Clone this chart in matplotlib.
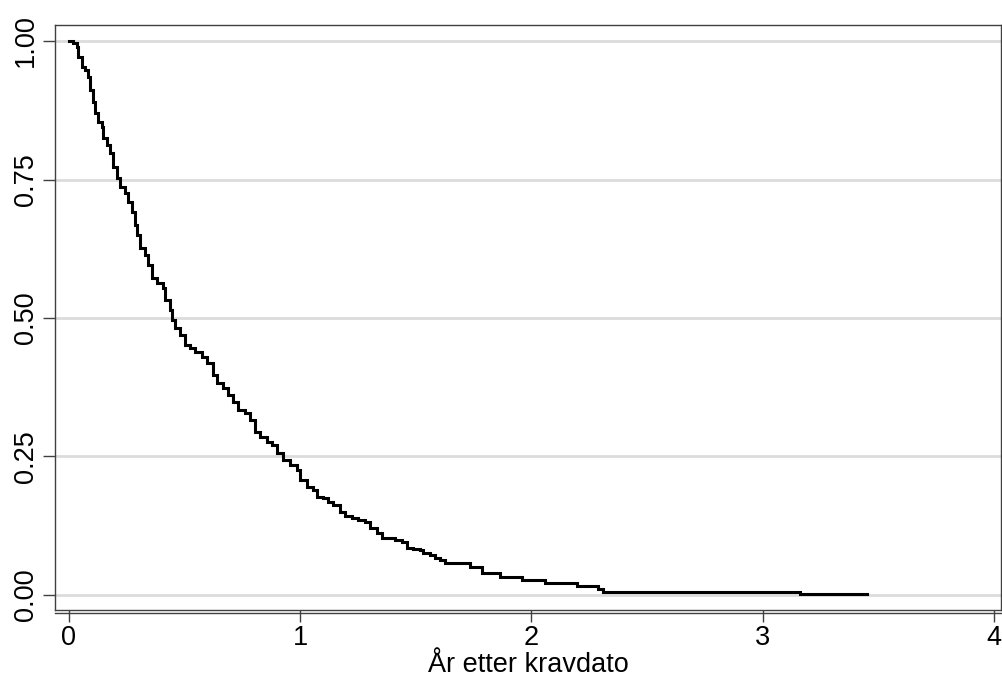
import numpy as np
import matplotlib
matplotlib.use('Agg')
import matplotlib.pyplot as plt

# step times (years) and survival after each step
times = [0.000, 0.017, 0.035, 0.039, 0.056, 0.069, 0.082, 0.091, 0.104, 0.112,
         0.125, 0.143, 0.147, 0.164, 0.177, 0.190, 0.208, 0.221, 0.242, 0.255,
         0.272, 0.285, 0.294, 0.307, 0.329, 0.342, 0.359, 0.381, 0.406, 0.415,
         0.437, 0.445, 0.458, 0.480, 0.502, 0.523, 0.545, 0.575, 0.597, 0.623,
         0.640, 0.666, 0.688, 0.709, 0.731, 0.761, 0.783, 0.804, 0.826, 0.856,
         0.878, 0.899, 0.925, 0.956, 0.986, 0.999, 1.029, 1.055, 1.072, 1.098,
         1.120, 1.142, 1.172, 1.194, 1.224, 1.250, 1.280, 1.302, 1.332, 1.354,
         1.410, 1.440, 1.462, 1.488, 1.518, 1.531, 1.561, 1.583, 1.604, 1.626,
         1.734, 1.786, 1.864, 1.959, 2.058, 2.197, 2.288, 2.309, 3.160, 3.451]
surv = [1.000, 0.996, 0.989, 0.971, 0.953, 0.948, 0.935, 0.912, 0.890, 0.870,
        0.854, 0.845, 0.825, 0.812, 0.798, 0.773, 0.753, 0.736, 0.726, 0.710,
        0.691, 0.668, 0.650, 0.626, 0.614, 0.596, 0.572, 0.563, 0.554, 0.532,
        0.514, 0.496, 0.482, 0.469, 0.451, 0.446, 0.439, 0.430, 0.419, 0.397,
        0.383, 0.374, 0.361, 0.348, 0.334, 0.329, 0.316, 0.294, 0.285, 0.276,
        0.271, 0.256, 0.244, 0.235, 0.226, 0.208, 0.195, 0.190, 0.177, 0.175,
        0.168, 0.162, 0.150, 0.143, 0.139, 0.135, 0.132, 0.121, 0.112, 0.103,
        0.099, 0.096, 0.085, 0.083, 0.081, 0.076, 0.072, 0.067, 0.063, 0.058,
        0.051, 0.040, 0.032, 0.027, 0.022, 0.016, 0.011, 0.0054, 0.0018, 0.0018]

xticks = [0, 1, 2, 3, 4]
yticks = [0.0, 0.25, 0.5, 0.75, 1.0]
ylabels = ['0.00', '0.25', '0.50', '0.75', '1.00']
xlabel = 'År etter kravdato'

plt.rcParams['font.family'] = ['Liberation Sans', 'DejaVu Sans']

fig = plt.figure(figsize=(10.03, 6.8), dpi=100)
ax = fig.add_axes([55 / 1003, 1 - 610 / 680, (1001 - 55) / 1003, (610 - 25) / 680])

for y in yticks:
    ax.axhline(y, color='#dcdcdc', lw=2.0, zorder=1)

ax.step(times, surv, where='post', color='black', lw=2.2, zorder=3,
        solid_joinstyle='miter')

ax.set_xlim(-0.0605, 4.0303)
ax.set_ylim(-0.0271, 1.0289)
ax.set_xticks(xticks)
ax.set_yticks(yticks)
ax.set_yticklabels(ylabels, rotation=90, va='center')

for s in ax.spines.values():
    s.set_color('#404040')
    s.set_linewidth(1.0)
# second line under the plot region, like stata draws it
ax.plot([0, 1], [-0.005, -0.005], transform=ax.transAxes, color='#404040',
        lw=1.0, clip_on=False)

ax.tick_params(axis='both', colors='#404040', labelcolor='black', labelsize=19.5,
               width=1.0)
ax.tick_params(axis='x', length=8.6, pad=2)
ax.tick_params(axis='y', length=8.6, pad=3)
ax.set_xlabel(xlabel, fontsize=19.5, labelpad=1)

fig.savefig('out.png', dpi=100)
